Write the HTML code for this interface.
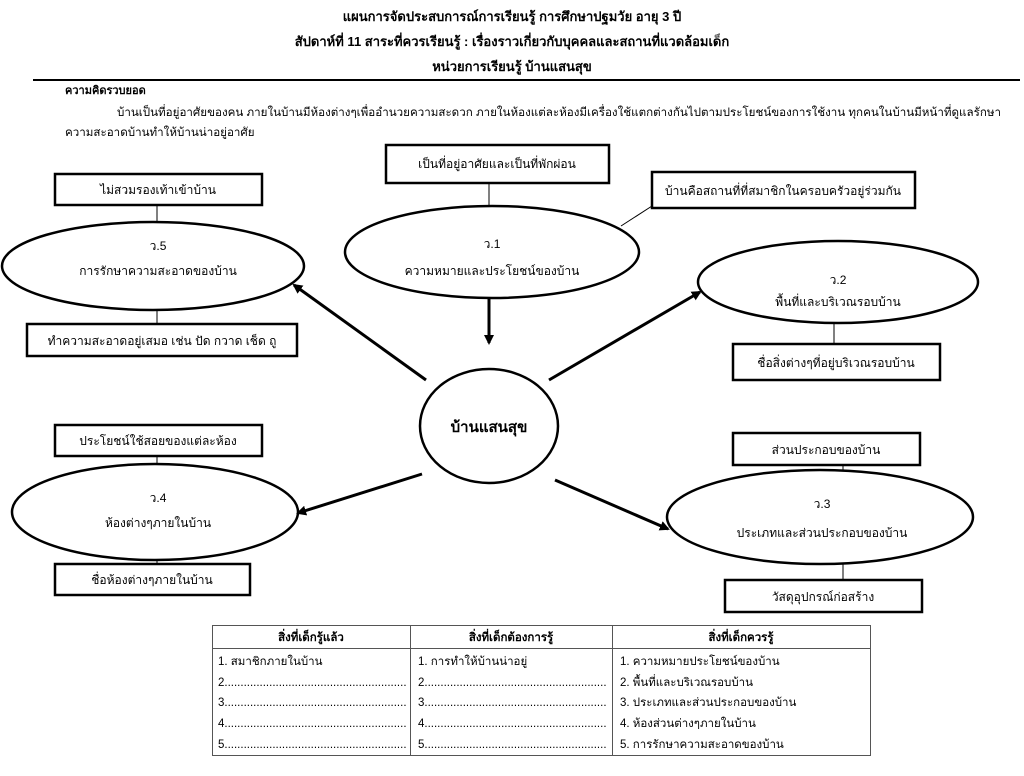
<!DOCTYPE html>
<html><head><meta charset="utf-8"><style>
html,body{margin:0;padding:0;background:#fff;}
svg{display:block;font-family:"Liberation Sans","DejaVu Sans",sans-serif;}
</style></head><body>
<svg width="1024" height="776" viewBox="0 0 1024 776" xmlns="http://www.w3.org/2000/svg">
<defs><marker id="ah" markerWidth="10" markerHeight="10" refX="8" refY="5" orient="auto" markerUnits="userSpaceOnUse"><path d="M0,0 L10,5 L0,10 z" fill="#000"/></marker></defs>
<g font-weight="bold" font-size="13" text-anchor="middle" fill="#000">
<text x="512" y="21">แผนการจัดประสบการณ์การเรียนรู้ การศึกษาปฐมวัย อายุ 3 ปี</text>
<text x="512" y="46">สัปดาห์ที่ 11 สาระที่ควรเรียนรู้ : เรื่องราวเกี่ยวกับบุคคลและสถานที่แวดล้อมเด็ก</text>
<text x="512" y="71">หน่วยการเรียนรู้ บ้านแสนสุข</text>
</g>
<line x1="33" y1="80" x2="1020" y2="80" stroke="#000" stroke-width="2"/>
<text x="65" y="94" font-size="11" font-weight="bold">ความคิดรวบยอด</text>
<text x="117" y="116" font-size="11.6">บ้านเป็นที่อยู่อาศัยของคน ภายในบ้านมีห้องต่างๆเพื่ออำนวยความสะดวก ภายในห้องแต่ละห้องมีเครื่องใช้แตกต่างกันไปตามประโยชน์ของการใช้งาน ทุกคนในบ้านมีหน้าที่ดูแลรักษา</text>
<text x="65" y="136" font-size="11.6">ความสะอาดบ้านทำให้บ้านน่าอยู่อาศัย</text>

<g fill="#fff" stroke="#000" stroke-width="2.5">
<rect x="55" y="174" width="207" height="31"/>
<rect x="27" y="324" width="270" height="32"/>
<rect x="386" y="145" width="223" height="38"/>
<rect x="652" y="172" width="263" height="36"/>
<rect x="733" y="344" width="207" height="36"/>
<rect x="55" y="425" width="207" height="31"/>
<rect x="55" y="564" width="195" height="31"/>
<rect x="733" y="433" width="187" height="32"/>
<rect x="725" y="580" width="197" height="32"/>
<ellipse cx="153" cy="266" rx="151" ry="44"/>
<ellipse cx="492" cy="252" rx="147" ry="46"/>
<ellipse cx="838" cy="282" rx="140" ry="41"/>
<ellipse cx="155" cy="512" rx="143" ry="48"/>
<ellipse cx="820" cy="517" rx="153" ry="47"/>
<ellipse cx="489" cy="426" rx="69" ry="57"/>
</g>
<g stroke="#000" stroke-width="1">
<line x1="157" y1="205" x2="157" y2="222"/>
<line x1="157" y1="310" x2="157" y2="324"/>
<line x1="489" y1="183" x2="489" y2="206"/>
<line x1="621" y1="226" x2="652" y2="206"/>
<line x1="834" y1="323" x2="834" y2="344"/>
<line x1="157" y1="456" x2="157" y2="464"/>
<line x1="157" y1="560" x2="157" y2="564"/>
<line x1="843" y1="465" x2="843" y2="470"/>
<line x1="843" y1="564" x2="843" y2="580"/>
</g>
<g stroke="#000" stroke-width="3" marker-end="url(#ah)">
<line x1="489" y1="298" x2="489" y2="343"/>
<line x1="426" y1="380" x2="294" y2="285"/>
<line x1="549" y1="380" x2="700" y2="292"/>
<line x1="422" y1="474" x2="298" y2="513"/>
<line x1="555" y1="480" x2="668" y2="529"/>
</g>
<g font-size="12" text-anchor="middle" fill="#000">
<text x="158" y="194">ไม่สวมรองเท้าเข้าบ้าน</text>
<text x="158" y="250">ว.5</text>
<text x="158" y="275">การรักษาความสะอาดของบ้าน</text>
<text x="162" y="345">ทำความสะอาดอยู่เสมอ เช่น ปัด กวาด เช็ด ถู</text>
<text x="497" y="168">เป็นที่อยู่อาศัยและเป็นที่พักผ่อน</text>
<text x="492" y="248">ว.1</text>
<text x="492" y="275">ความหมายและประโยชน์ของบ้าน</text>
<text x="783" y="195">บ้านคือสถานที่ที่สมาชิกในครอบครัวอยู่ร่วมกัน</text>
<text x="838" y="284">ว.2</text>
<text x="838" y="306">พื้นที่และบริเวณรอบบ้าน</text>
<text x="836" y="367">ชื่อสิ่งต่างๆที่อยู่บริเวณรอบบ้าน</text>
<text x="489" y="432" font-size="15" font-weight="bold">บ้านแสนสุข</text>
<text x="158" y="445">ประโยชน์ใช้สอยของแต่ละห้อง</text>
<text x="158" y="502">ว.4</text>
<text x="158" y="527">ห้องต่างๆภายในบ้าน</text>
<text x="152" y="584">ชื่อห้องต่างๆภายในบ้าน</text>
<text x="826" y="454">ส่วนประกอบของบ้าน</text>
<text x="822" y="508">ว.3</text>
<text x="822" y="537">ประเภทและส่วนประกอบของบ้าน</text>
<text x="823" y="601">วัสดุอุปกรณ์ก่อสร้าง</text>
</g>
<g stroke="#555" stroke-width="1" fill="none">
<rect x="212.5" y="625.5" width="658" height="130"/>
<line x1="212" y1="648.5" x2="871" y2="648.5"/>
<line x1="410.5" y1="625" x2="410.5" y2="756"/>
<line x1="612.5" y1="625" x2="612.5" y2="756"/>
</g>
<g font-size="11.5" font-weight="bold" text-anchor="middle">
<text x="311" y="641">สิ่งที่เด็กรู้แล้ว</text>
<text x="511" y="641">สิ่งที่เด็กต้องการรู้</text>
<text x="741" y="641">สิ่งที่เด็กควรรู้</text>
</g>
<g font-size="11.5">
<text x="218" y="665">1. สมาชิกภายในบ้าน</text>
<text x="218" y="686">2.........................................................</text>
<text x="218" y="706">3.........................................................</text>
<text x="218" y="727">4.........................................................</text>
<text x="218" y="748">5.........................................................</text>
<text x="418" y="665">1. การทำให้บ้านน่าอยู่</text>
<text x="418" y="686">2.........................................................</text>
<text x="418" y="706">3.........................................................</text>
<text x="418" y="727">4.........................................................</text>
<text x="418" y="748">5.........................................................</text>
<text x="620" y="665">1. ความหมายประโยชน์ของบ้าน</text>
<text x="620" y="686">2. พื้นที่และบริเวณรอบบ้าน</text>
<text x="620" y="706">3. ประเภทและส่วนประกอบของบ้าน</text>
<text x="620" y="727">4. ห้องส่วนต่างๆภายในบ้าน</text>
<text x="620" y="748">5. การรักษาความสะอาดของบ้าน</text>
</g>
</svg>
</body></html>
